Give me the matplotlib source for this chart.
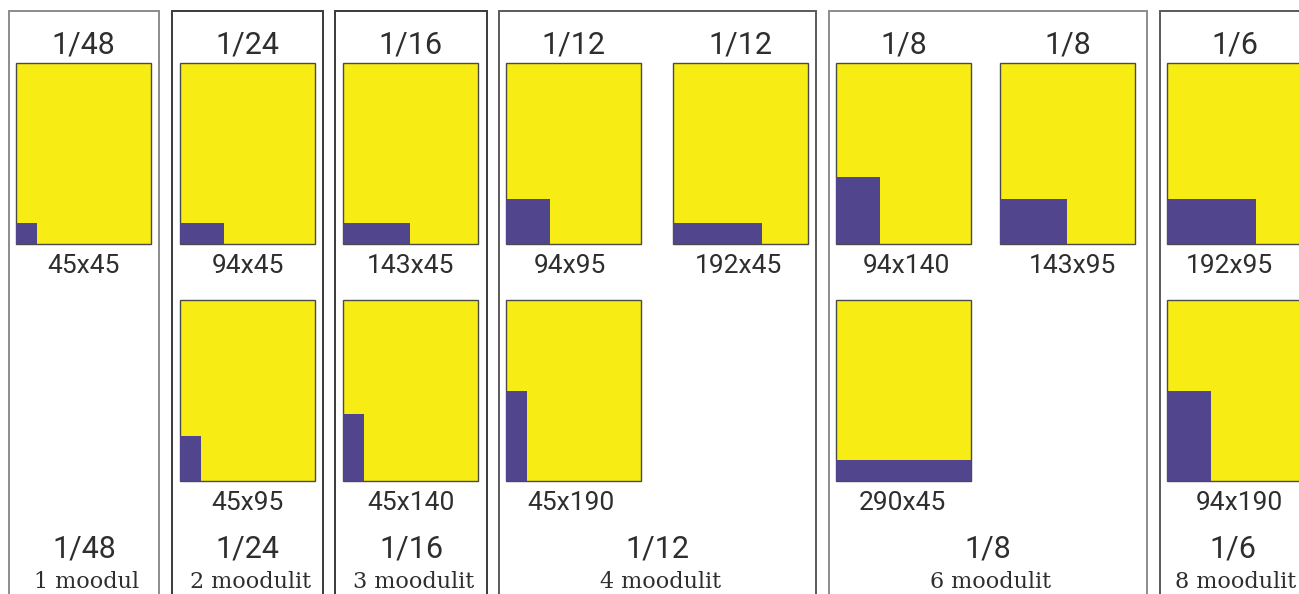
from matplotlib import pyplot as plt
from matplotlib.patches import Rectangle

# group headers (fraction of page) and module counts
group_fraction = ["1/48", "1/24", "1/16", "1/12", "1/8", "1/6"]
group_modules = ["1 moodul", "2 moodulit", "3 moodulit", "4 moodulit", "6 moodulit", "8 moodulit"]

# one entry per ad size thumbnail (mm)
ad_fraction = ["1/48", "1/24", "1/24", "1/16", "1/16", "1/12", "1/12", "1/12",
               "1/8", "1/8", "1/8", "1/6", "1/6"]
ad_width = [45, 94, 45, 143, 45, 94, 192, 45, 94, 143, 290, 192, 94]
ad_height = [45, 45, 95, 45, 140, 95, 45, 190, 140, 95, 45, 95, 190]

PAGE_W, PAGE_H = 290, 380

YELLOW = "#F8EC15"
PURPLE = "#51468E"
TEXT = "#2e2e2e"

# layout (pixels, origin top-left)
W, H = 1299, 594
panel_x = [(9, 159), (172, 323), (335, 487), (499, 816), (829, 1147), (1160, 1340)]
panel_edge = ["#8c8c8c", "#3a3a3a", "#3a3a3a", "#5a5a5a", "#8c8c8c", "#5a5a5a"]
thumb_left = [16, 180, 180, 343, 343, 506, 673, 506, 836, 1000, 836, 1167, 1167]
thumb_row = [0, 0, 1, 0, 1, 0, 0, 1, 0, 0, 1, 0, 1]
thumb_label_dx = [0, 0, 0, 0, 0, -4, -2, -3, 3, 5, -1, -5, 5]
row_top = [63, 300]
thumb_w, thumb_h = 135, 181

plt.rcParams['font.family'] = ['Roboto', 'DejaVu Sans']

fig = plt.figure(figsize=(W / 100, H / 100), dpi=100)


def fx(px):
    return px / W


def fy(py):
    return 1 - py / H


# panel frames
for (x0, x1), ec, frac, mods in zip(panel_x, panel_edge, group_fraction, group_modules):
    fig.patches.append(Rectangle((fx(x0), fy(620)), fx(x1 - x0), (620 - 11) / H,
                                 transform=fig.transFigure, fill=False,
                                 edgecolor=ec, linewidth=1.4))
    cx = fx((x0 + x1) / 2) if x1 < 1300 else fx(1233)
    fig.text(cx, fy(558), frac, ha="center", va="baseline", fontsize=22,
             color=TEXT)
    fig.text(cx + fx(3), fy(588), mods, ha="center", va="baseline", fontsize=16,
             color=TEXT, family=["DejaVu Serif"])

# page thumbnails
for i in range(len(ad_width)):
    left = thumb_left[i]
    top = row_top[thumb_row[i]]
    ax = fig.add_axes([fx(left), fy(top + thumb_h), fx(thumb_w), thumb_h / H])
    ax.set_xlim(0, PAGE_W)
    ax.set_ylim(0, PAGE_H)
    ax.axis("off")
    ax.add_patch(Rectangle((0, 0), PAGE_W, PAGE_H, facecolor=YELLOW,
                           edgecolor="#4a4a4a", linewidth=1.0, clip_on=False))
    ax.add_patch(Rectangle((0, 0), ad_width[i], ad_height[i], facecolor=PURPLE,
                           edgecolor="none", clip_on=False))
    cx = fx(left + thumb_w / 2)
    if thumb_row[i] == 0:
        fig.text(cx, fy(53), ad_fraction[i], ha="center", va="baseline",
                 fontsize=22, color=TEXT)
    fig.text(fx(left + thumb_w / 2 + thumb_label_dx[i]),
             fy(top + thumb_h + 29), f"{ad_width[i]}x{ad_height[i]}",
             ha="center", va="baseline", fontsize=19, color=TEXT)

fig.savefig("out.png", dpi=100)
